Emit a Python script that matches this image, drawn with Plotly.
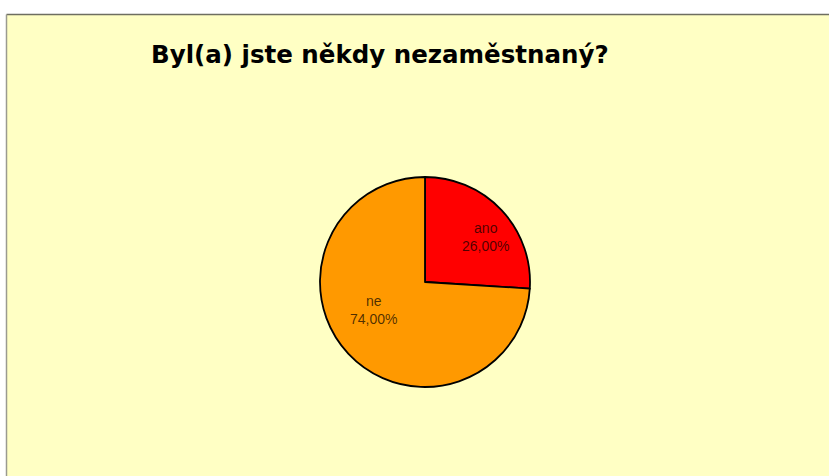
import plotly.graph_objects as go

labels = ["ano", "ne"]
values = [26, 74]
colors = ["#FF0000", "#FF9900"]
title_text = "Byl(a) jste někdy nezaměstnaný?"

W, H = 829, 476
cx, cy, r = 425, 282, 105
# label anchor positions (pixels) for slice labels
label_pos = [(485, 237), (373, 310)]

fig = go.Figure()
fig.add_trace(go.Pie(
    labels=labels, values=values, sort=False, direction="clockwise", rotation=0,
    marker=dict(colors=colors, line=dict(color="black", width=1.8)),
    textinfo="none",
    domain=dict(x=[(cx - r) / W, (cx + r) / W], y=[(H - cy - r) / H, (H - cy + r) / H]),
    showlegend=False, hoverinfo="skip",
))

total = sum(values)
annotations = [dict(text="<b>" + title_text + "</b>", xref="paper", yref="paper",
                    x=149 / W, y=(H - 54) / H, xanchor="left", yanchor="middle", showarrow=False,
                    font=dict(family="DejaVu Sans", size=24.5, color="black"))]
for lab, val, (px, py) in zip(labels, values, label_pos):
    pct = f"{100 * val / total:.2f}".replace(".", ",") + "%"
    annotations.append(dict(text=f"{lab}<br>{pct}", xref="paper", yref="paper",
                            x=px / W, y=(H - py) / H, xanchor="center", yanchor="middle",
                            showarrow=False, align="center",
                            font=dict(family="Arial, Liberation Sans", size=14, color="rgba(0,0,0,0.7)")))

fig.update_layout(
    width=W, height=H, margin=dict(l=0, r=0, t=0, b=0),
    paper_bgcolor="white",
    shapes=[
        dict(type="rect", xref="paper", yref="paper", x0=6.5 / W, x1=1.01, y0=-0.01, y1=(H - 14.5) / H,
             fillcolor="#FFFFC4", line=dict(width=0), layer="below"),
        dict(type="line", xref="paper", yref="paper", x0=6.5 / W, x1=1, y0=(H - 14.5) / H, y1=(H - 14.5) / H,
             line=dict(color="#6E6E60", width=1.5)),
        dict(type="line", xref="paper", yref="paper", x0=6.5 / W, x1=6.5 / W, y0=0, y1=(H - 14.5) / H,
             line=dict(color="#9A9A90", width=1.5)),
    ],
    annotations=annotations,
)
fig.write_html("out.html")
